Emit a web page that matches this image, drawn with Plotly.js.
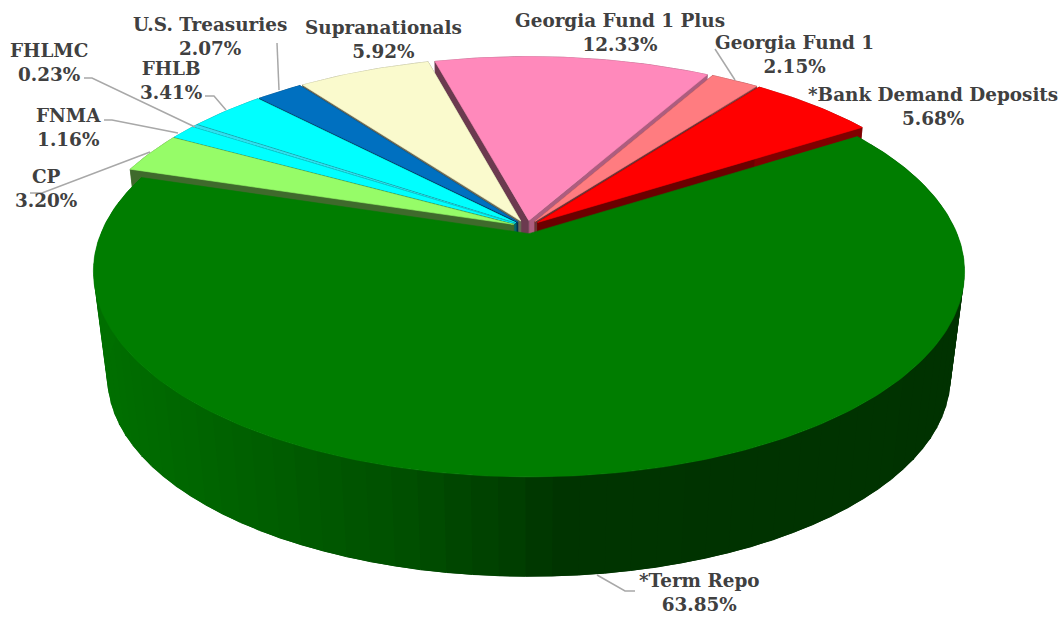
<!DOCTYPE html>
<html>
<head>
<meta charset="utf-8">
<script src="https://cdn.plot.ly/plotly-3.0.1.min.js"></script>
<style>html,body{margin:0;padding:0;background:#fff}#chart{width:1063px;height:617px}</style>
</head>
<body>
<div id="chart"></div>
<script>
// Data, clockwise from the first slice
const categories = ["*Term Repo","CP","FNMA","FHLMC","FHLB","U.S. Treasuries","Supranationals","Georgia Fund 1 Plus","Georgia Fund 1","*Bank Demand Deposits"];
const shares = [63.85,3.20,1.16,0.23,3.41,2.07,5.92,12.33,2.15,5.68];
const sliceColors = ["#007d00","#96fc68","#00ffff","#30e0f0","#00ffff","#0070c0","#fafacd","#ff89bb","#ff7c80","#ff0000"];
const labelX = [699,46,68,49,171,210,383,620,794,933];
const labelY = [592,188,127,62,80,36,39,32,54,106];
// Leader lines, screen pixels
const leaders = [
  [[597,575],[625,591],[635,591]],
  [[30,193],[42,193],[150,152]],
  [[104,120],[112,120],[178,133]],
  [[84,78],[92,78],[195,127]],
  [[205,96],[214,96],[226,110]],
  [[277,43],[279,90]],
  [[715,49],[735,80]]
];
// Side wall shade of the large slice against screen x
const wallStopX = [100,250,400,500,560,1000];
const wallStopG = [112,96,80,64,52,50];

// Projection of the tilted disc
const CX=527, CY=227, A=425.5, B=196, K=0.183, EXPLODE=0.034, DEPTH=108, SHRINK=0.032, START=-32.5;
const rad = d => d*Math.PI/180;
function project(u,v,h){
  const s=1-SHRINK*h, w=1-K*v;
  return [CX+s*A*u/w, CY+DEPTH*h+s*B*v/w];
}
function shade(hex,f){
  const n=parseInt(hex.slice(1),16);
  return `rgb(${Math.round((n>>16&255)*f)},${Math.round((n>>8&255)*f)},${Math.round((n&255)*f)})`;
}
function wallColor(x){
  for(let i=1;i<wallStopX.length;i++){
    if(x<=wallStopX[i]){
      const t=Math.max(0,(x-wallStopX[i-1])/(wallStopX[i]-wallStopX[i-1]));
      return `rgb(0,${Math.round(wallStopG[i-1]+t*(wallStopG[i]-wallStopG[i-1]))},0)`;
    }
  }
  return `rgb(0,${wallStopG[wallStopG.length-1]},0)`;
}
function poly(pts,color,name,lw){
  const xs=pts.map(p=>p[0]); const ys=pts.map(p=>p[1]);
  xs.push(xs[0]); ys.push(ys[0]);
  return {type:'scatter',mode:'lines',x:xs,y:ys,fill:'toself',fillcolor:color,
    line:{color:color,width:lw===undefined?0.6:lw},name:name,hoverinfo:'name',showlegend:false};
}

const total = shares.reduce((a,b)=>a+b,0);
let cursor = START;
const slices = categories.map((name,i)=>{
  const a0=cursor, a1=cursor+shares[i]/total*360; cursor=a1;
  return {name,color:sliceColors[i],a0,a1,mid:(a0+a1)/2};
});
slices.sort((p,q)=>Math.sin(rad(p.mid))-Math.sin(rad(q.mid)));

const traces=[];
slices.forEach(sl=>{
  const ox=EXPLODE*Math.cos(rad(sl.mid)), oy=EXPLODE*Math.sin(rad(sl.mid));
  const rim=(a,h)=>project(ox+Math.cos(rad(a)),oy+Math.sin(rad(a)),h);
  const apex=h=>project(ox,oy,h);
  const steps=Math.max(2,Math.ceil((sl.a1-sl.a0)/1));
  const angles=[]; for(let j=0;j<=steps;j++) angles.push(sl.a0+(sl.a1-sl.a0)*j/steps);
  const big = sl.a1-sl.a0>180;
  const endNormal=((sl.a1+90)%360);
  const endF = endNormal<=30 ? 0.68 : endNormal<=60 ? 0.5 : 0.42;
  if(!big){
    const side=angles.map(a=>rim(a,0)).concat(angles.slice().reverse().map(a=>rim(a,1)));
    traces.push(poly(side,shade(sl.color,0.5),sl.name));
    traces.push(poly([apex(0),rim(sl.a1,0),rim(sl.a1,1),apex(1)],shade(sl.color,endF),sl.name));
    traces.push(poly([apex(0),rim(sl.a0,0),rim(sl.a0,1),apex(1)],shade(sl.color,0.42),sl.name));
  } else {
    // Each band runs under the next one so that no seam shows between them
    for(let j=0;j<angles.length-1;j+=3){
      const a=angles[j], b=angles[Math.min(j+3,angles.length-1)];
      const c=angles[Math.min(j+6,angles.length-1)];
      const q=[rim(a,0),rim(c,0),rim(c,1),rim(a,1)];
      const mx=(rim(a,1)[0]+rim(b,1)[0])/2;
      traces.push(poly(q,wallColor(mx),sl.name,0));
    }
  }
  traces.push(poly([apex(0)].concat(angles.map(a=>rim(a,0))),sl.color,sl.name));
});

const annotations=categories.map((name,i)=>({
  x:labelX[i],y:labelY[i],xref:'x',yref:'y',showarrow:false,xanchor:'center',yanchor:'middle',
  text:name+'<br>'+shares[i].toFixed(2)+'%',align:'center',
  font:{family:'"DejaVu Serif", serif',size:18.4,color:'#404040',weight:'bold'}
}));
const shapes=leaders.map(l=>({
  type:'path',xref:'x',yref:'y',
  path:l.map((p,i)=>(i?'L':'M')+p[0]+' '+p[1]).join(' '),
  line:{color:'#a8a8a8',width:1.5}
}));

Plotly.newPlot('chart',traces,{
  width:1063,height:617,margin:{l:0,r:0,t:0,b:0},showlegend:false,
  paper_bgcolor:'#fff',plot_bgcolor:'#fff',
  xaxis:{range:[0,1063],visible:false,fixedrange:true},
  yaxis:{range:[617,0],visible:false,fixedrange:true},
  annotations,shapes
},{displayModeBar:false,staticPlot:true});
</script>
</body>
</html>
